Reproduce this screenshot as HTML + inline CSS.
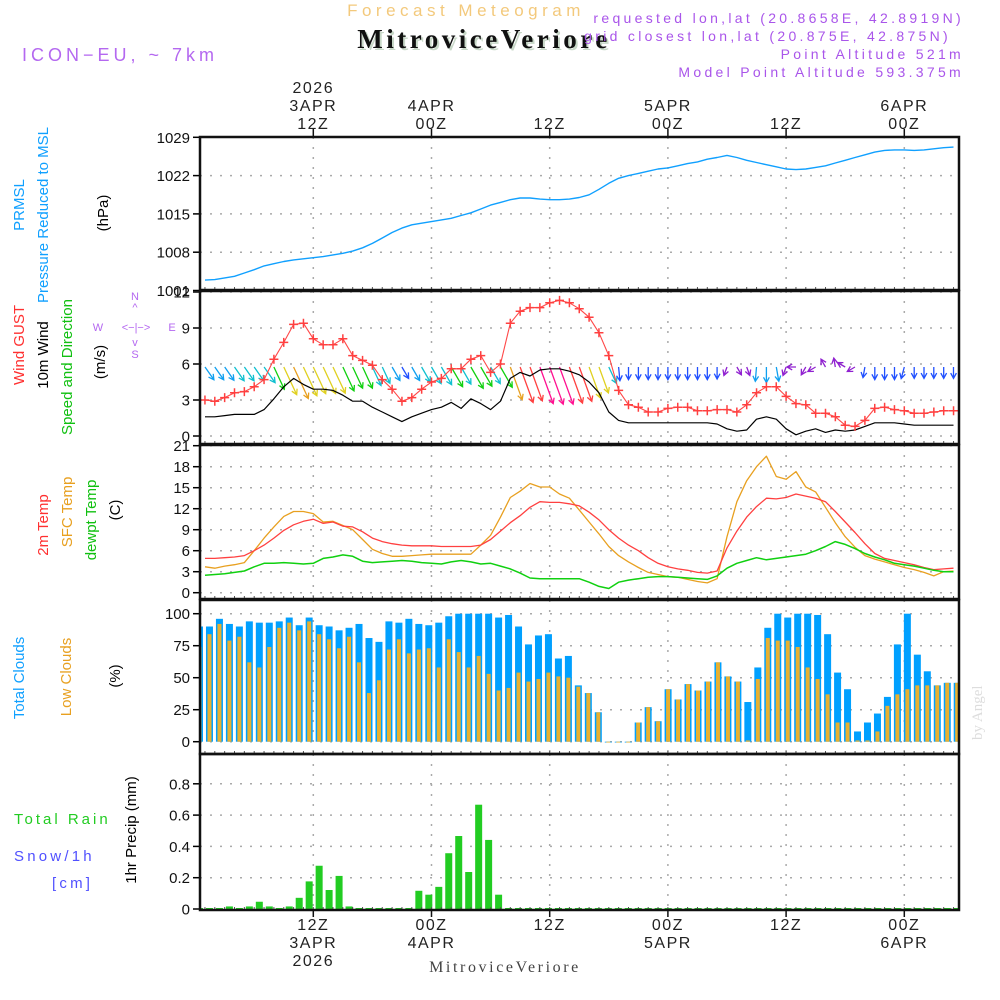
<!DOCTYPE html>
<html><head><meta charset="utf-8">
<style>
html,body{margin:0;padding:0;background:#fff;}
svg{display:block;font-family:"Liberation Sans",sans-serif;}
</style></head>
<body>
<svg id="chart" width="1000" height="1000" viewBox="0 0 1000 1000" xmlns="http://www.w3.org/2000/svg">
<defs>
<clipPath id="c1"><rect x="200" y="137" width="759" height="153"/></clipPath>
<clipPath id="c2"><rect x="200" y="291" width="759" height="153"/></clipPath>
<clipPath id="c3"><rect x="200" y="445" width="759" height="154"/></clipPath>
<clipPath id="c4"><rect x="200" y="600" width="759" height="154"/></clipPath>
<clipPath id="c5"><rect x="200" y="754" width="759" height="156"/></clipPath>
</defs>
<g id="titles">
<text x="466" y="16" text-anchor="middle" font-size="17" fill="#f3c97c" letter-spacing="4.5">Forecast Meteogram</text>
<text x="486" y="50" text-anchor="middle" font-size="27" font-weight="bold" font-family="Liberation Serif, serif" fill="#c8d8c8" letter-spacing="3.5">MitroviceVeriore</text>
<text x="484" y="48" text-anchor="middle" font-size="27" font-weight="bold" font-family="Liberation Serif, serif" fill="#111" letter-spacing="3.5">MitroviceVeriore</text>
<text x="22" y="61" font-size="18" fill="#b468f0" letter-spacing="4">ICON−EU, ~ 7km</text>
<text x="964" y="23" text-anchor="end" font-size="14" fill="#a955ea" letter-spacing="3.3">requested lon,lat (20.8658E, 42.8919N)</text>
<text x="951" y="41" text-anchor="end" font-size="14" fill="#a955ea" letter-spacing="3.3">grid closest lon,lat (20.875E, 42.875N)</text>
<text x="964" y="59" text-anchor="end" font-size="14" fill="#a955ea" letter-spacing="3.3">Point Altitude 521m</text>
<text x="964" y="77" text-anchor="end" font-size="14" fill="#a955ea" letter-spacing="3.3">Model Point Altitude 593.375m</text>
<text x="505" y="972" text-anchor="middle" font-size="16" font-family="Liberation Serif, serif" fill="#444" letter-spacing="2.6">MitroviceVeriore</text>
<text transform="translate(982,740) rotate(-90)" font-size="15" font-family="Liberation Serif, serif" fill="#ddd">by Angel</text>
</g>
<g id="leftlabels" font-size="15">
<text transform="translate(24,205) rotate(-90)" text-anchor="middle" fill="#10a0ff">PRMSL</text>
<text transform="translate(48,215) rotate(-90)" text-anchor="middle" fill="#10a0ff">Pressure Reduced to MSL</text>
<text transform="translate(108,213) rotate(-90)" text-anchor="middle" fill="#000">(hPa)</text>
<text transform="translate(24,345) rotate(-90)" text-anchor="middle" fill="#ff3030">Wind GUST</text>
<text transform="translate(48,355) rotate(-90)" text-anchor="middle" fill="#000">10m Wind</text>
<text transform="translate(72,367) rotate(-90)" text-anchor="middle" fill="#10c010">Speed and Direction</text>
<text transform="translate(105,362) rotate(-90)" text-anchor="middle" fill="#000">(m/s)</text>
<text transform="translate(48,525) rotate(-90)" text-anchor="middle" fill="#ff3030">2m Temp</text>
<text transform="translate(72,512) rotate(-90)" text-anchor="middle" fill="#e8a020">SFC Temp</text>
<text transform="translate(96,520) rotate(-90)" text-anchor="middle" fill="#10c010">dewpt Temp</text>
<text transform="translate(120,510) rotate(-90)" text-anchor="middle" fill="#000">(C)</text>
<text transform="translate(24,678) rotate(-90)" text-anchor="middle" fill="#10a0ff">Total Clouds</text>
<text transform="translate(71,677) rotate(-90)" text-anchor="middle" fill="#e8a020">Low Clouds</text>
<text transform="translate(120,676) rotate(-90)" text-anchor="middle" fill="#000">(%)</text>
<text x="14" y="824" fill="#22cc22" letter-spacing="3">Total   Rain</text>
<text x="14" y="861" fill="#5050ff" letter-spacing="3.2">Snow/1h</text>
<text x="52" y="888" fill="#5050ff" letter-spacing="3.2">[cm]</text>
<text transform="translate(136,830) rotate(-90)" text-anchor="middle" fill="#000">1hr Precip (mm)</text>
<g fill="#b468f0" font-size="11">
<text x="135" y="300" text-anchor="middle">N</text>
<text x="135" y="311" text-anchor="middle">^</text>
<text x="98" y="331" text-anchor="middle">W</text>
<text x="136" y="331" text-anchor="middle">&lt;−|−&gt;</text>
<text x="172" y="331" text-anchor="middle">E</text>
<text x="135" y="346" text-anchor="middle">v</text>
<text x="135" y="358" text-anchor="middle">S</text>
</g>
</g>
<g id="grid"></g>
<g id="marks"></g>
<g id="frames"></g>
<g id="ticks" font-size="15" fill="#111"></g>
</svg>
<script>
const pressure=[1002.9,1003.0,1003.3,1003.6,1004.2,1004.8,1005.5,1005.9,1006.3,1006.6,1006.8,1007.0,1007.2,1007.5,1007.8,1008.2,1008.8,1009.6,1010.6,1011.6,1012.4,1013.0,1013.3,1013.6,1013.9,1014.2,1014.7,1015.2,1015.9,1016.6,1017.1,1017.6,1017.9,1017.9,1017.7,1017.6,1017.6,1017.7,1018.0,1018.5,1019.5,1020.6,1021.5,1022.0,1022.4,1022.8,1023.2,1023.4,1023.8,1024.2,1024.5,1025.0,1025.3,1025.7,1025.3,1024.8,1024.4,1024.0,1023.6,1023.2,1023.1,1023.2,1023.5,1023.8,1024.3,1024.8,1025.3,1025.8,1026.3,1026.6,1026.7,1026.7,1026.6,1026.7,1026.9,1027.1,1027.2];
const gust=[3.0,2.9,3.2,3.6,3.7,4.1,4.7,6.4,7.8,9.3,9.4,8.1,7.6,7.6,8.1,6.7,6.3,5.9,4.7,3.9,2.9,3.2,3.9,4.5,4.8,5.6,5.6,6.4,6.7,5.3,6.0,9.4,10.4,10.7,10.7,11.1,11.3,11.1,10.6,9.9,8.6,6.7,3.8,2.6,2.4,2.0,2.0,2.3,2.4,2.4,2.1,2.1,2.2,2.2,2.0,2.6,3.6,4.1,4.1,3.3,2.7,2.6,1.9,1.9,1.6,0.9,0.8,1.3,2.3,2.4,2.2,2.1,1.9,1.9,2.0,2.1,2.1];
const wind=[1.6,1.6,1.7,1.8,1.8,1.8,2.2,3.1,4.1,4.8,4.3,3.9,3.9,3.8,3.4,2.9,2.9,2.4,2.0,1.6,1.2,1.6,1.9,2.2,2.4,2.8,2.3,3.1,2.7,2.2,2.9,4.8,5.3,5.0,5.5,5.6,5.6,5.4,5.1,4.5,3.6,2.0,1.3,1.1,1.1,1.1,1.1,1.1,1.1,1.1,1.1,1.1,1.0,0.6,0.4,0.5,1.4,1.6,1.4,0.6,0.1,0.4,0.6,0.3,0.5,0.4,0.5,0.8,1.1,1.1,1.1,1.0,0.9,0.9,0.9,0.9,0.9];
const windDir=[325,325,325,325,325,325,325,335,335,335,335,335,335,335,335,335,335,335,335,330,330,330,330,330,330,330,330,330,330,330,330,340,340,340,340,340,340,340,340,340,340,335,355,0,0,0,0,0,0,0,0,0,0,20,330,340,5,0,350,20,90,30,60,150,170,120,60,10,0,0,0,15,0,0,0,0,0];
const t2m=[4.9,4.9,5.0,5.1,5.3,6.0,6.8,7.8,8.9,9.7,10.2,10.5,9.9,10.1,9.5,9.4,8.7,7.8,7.3,7.0,6.8,6.7,6.7,6.7,6.6,6.6,6.6,6.6,6.8,7.6,8.8,10.0,11.0,12.2,13.0,12.9,12.9,12.7,12.4,11.5,10.4,9.0,7.8,6.8,6.0,5.0,4.2,3.7,3.4,3.2,2.9,2.8,3.1,6.4,8.8,10.8,12.3,13.5,13.4,13.6,14.1,13.8,13.5,13.0,11.6,10.1,8.6,7.0,5.6,4.9,4.6,4.3,4.0,3.6,3.3,3.4,3.5];
const tsfc=[3.7,3.5,3.8,4.0,4.3,6.0,7.8,9.4,10.9,11.6,11.6,11.3,10.1,10.2,9.6,9.0,7.6,6.2,5.6,5.2,5.2,5.3,5.4,5.5,5.5,5.5,5.5,5.5,6.8,8.2,10.8,13.6,14.5,15.6,15.1,15.1,14.1,13.5,11.8,10.1,8.4,6.6,5.3,4.4,3.6,2.9,2.6,2.3,2.2,1.9,1.6,1.4,2.0,8.0,13.0,16.0,18.0,19.5,16.6,16.2,17.3,15.1,14.4,12.2,10.0,8.0,6.5,5.3,4.8,4.4,4.0,3.6,3.3,2.9,2.4,3.0,3.1];
const dewpt=[2.5,2.6,2.7,2.9,3.1,3.7,4.2,4.2,4.3,4.2,4.1,4.2,4.9,5.1,5.4,5.2,4.5,4.3,4.4,4.5,4.6,4.5,4.3,4.2,4.1,4.4,4.6,4.4,4.1,4.2,3.8,3.4,2.8,2.1,2.0,2.0,2.0,2.0,2.0,1.5,0.9,0.6,1.5,1.8,2.0,2.2,2.3,2.3,2.2,2.1,2.0,1.9,2.4,3.5,4.2,4.6,5.0,4.7,4.9,5.1,5.3,5.5,6.0,6.6,7.3,6.9,6.3,5.6,5.1,4.7,4.2,4.0,3.8,3.5,3.2,3.0,3.0];
const totalClouds=[90,90,96,92,90,94,93,93,94,97,91,97,91,90,87,89,92,81,78,94,93,96,92,91,93,98,100,100,100,100,97,99,90,76,83,84,65,67,44,38,23,0,0,0,15,27,16,41,33,45,40,47,62,51,47,31,58,89,100,97,100,100,99,84,54,41,8,15,22,35,76,100,68,55,44,46,46];
const lowClouds=[74,84,92,79,82,62,58,74,89,93,87,94,84,80,73,82,62,38,48,72,80,69,72,73,58,80,70,58,67,53,40,42,54,47,49,54,51,50,43,38,23,0,0,0,15,27,16,41,33,45,40,47,62,51,47,1,49,81,79,79,74,58,49,37,15,15,1,1,8,28,37,41,44,44,44,46,46];
const precip=[0,0,0,0.01,0,0.01,0.04,0.01,0,0.01,0.065,0.17,0.27,0.115,0.205,0.01,0,0,0,0,0,0,0.11,0.085,0.135,0.35,0.46,0.23,0.66,0.435,0.085,0,0,0,0,0,0,0,0,0,0,0,0,0,0,0,0,0,0,0,0,0,0,0,0,0,0,0,0,0,0,0,0,0,0,0,0,0,0,0,0,0,0,0,0,0,0];
const pTicks=["1029","1022","1015","1008","1001"];
const wTicks=["12","9","6","3","0"];
const tTicks=["21","18","15","12","9","6","3","0"];
const cTicks=["100","75","50","25","0"];
const rTicks=["0.8","0.6","0.4","0.2","0"];
const timeHours=[12,24,36,48,60,72];
const topLabels=[["2026","3APR","12Z"],["","4APR","00Z"],["","","12Z"],["","5APR","00Z"],["","","12Z"],["","6APR","00Z"]];
const botLabels=[["12Z","3APR","2026"],["00Z","4APR",""],["12Z","",""],["00Z","5APR",""],["12Z","",""],["00Z","6APR",""]];

const NS="http://www.w3.org/2000/svg";
function mk(tag,attrs,parent){const e=document.createElementNS(NS,tag);for(const k in attrs)e.setAttribute(k,attrs[k]);parent.appendChild(e);return e;}
const xT=h=>313.3+(h-12)*9.85;
const xL=i=>xT(i+1);
const xB=j=>199.5+j*9.97;
const yP=v=>290.5-(v-1001)*38.3/7;
const yW=v=>436-v*12;
const yT=v=>592.7-v*7;
const yC=v=>741.7-v*1.28;
const yR=v=>909-v*156.5;
const grid=document.getElementById('grid'),marks=document.getElementById('marks'),frames=document.getElementById('frames'),ticks=document.getElementById('ticks');
const panels=[{t:137,b:290,ys:yP,labels:pTicks,vals:pTicks.map(Number),clip:'c1'},{t:291,b:444,ys:yW,labels:wTicks,vals:wTicks.map(Number),clip:'c2'},{t:445,b:599,ys:yT,labels:tTicks,vals:tTicks.map(Number),clip:'c3'},{t:600,b:754,ys:yC,labels:cTicks,vals:cTicks.map(Number),clip:'c4'},{t:754,b:910,ys:yR,labels:rTicks,vals:rTicks.map(Number),clip:'c5'}];
panels.forEach((p,pi)=>{
  p.vals.forEach((v,k)=>{const y=p.ys(v);
    const g=mk('line',{x1:200,x2:959,y1:y,y2:y,stroke:'#aaa','stroke-width':1.5,'stroke-dasharray':'2 8'},grid);
    
    
    const tk=mk('line',{x1:193,x2:200,y1:y,y2:y,stroke:'#000','stroke-width':1.5},frames);
    
    
    const t=mk('text',{x:190,y:y+5.5,'text-anchor':'end'},ticks);t.textContent=p.labels[k];
    
    
  });
  timeHours.forEach(h=>{const g=mk('line',{x1:xT(h),x2:xT(h),y1:p.t,y2:p.b,stroke:'#aaa','stroke-width':1.5,'stroke-dasharray':'2 8'},grid);
    
    });
  for(let h=1;h<78;h++){const tk=mk('line',{x1:xT(h),x2:xT(h),y1:p.b-3,y2:p.b,stroke:'#555','stroke-width':1},frames);
    
    }
  const f=mk('rect',{x:200,y:p.t,width:759,height:p.b-p.t,fill:'none',stroke:'#111','stroke-width':2.5},frames);
  
  
});
timeHours.forEach((h,k)=>{
  const t1=mk('line',{x1:xT(h),x2:xT(h),y1:129,y2:137,stroke:'#111','stroke-width':1.5},frames);
  
  
  const t2=mk('line',{x1:xT(h),x2:xT(h),y1:910,y2:917,stroke:'#111','stroke-width':1.5},frames);
  
  
  topLabels[k].forEach((s,r)=>{if(!s)return;const t=mk('text',{x:xT(h),y:93+r*18,'text-anchor':'middle','font-size':16,'letter-spacing':1.5,fill:'#222'},ticks);t.textContent=s;
    
    });
  botLabels[k].forEach((s,r)=>{if(!s)return;const t=mk('text',{x:xT(h),y:930+r*18,'text-anchor':'middle','font-size':16,'letter-spacing':1.5,fill:'#222'},ticks);t.textContent=s;
    
    });
});
function line(arr,xs,ys,color,w,clip,name){const d=arr.map((v,i)=>(i?'L':'M')+xs(i).toFixed(1)+' '+ys(v).toFixed(1)).join('');
  const p=mk('path',{d:d,fill:'none',stroke:color,'stroke-width':w,'clip-path':'url(#'+clip+')','stroke-linejoin':'round'},marks);
  
  }
line(pressure,xL,yP,'#10a0ff',1.4,'c1','pressure-line');
function spdColor(s){if(s<0.7)return '#9020d0';if(s<1.4)return '#2050ff';if(s<1.8)return '#10a0f0';if(s<2.6)return '#10c0d0';if(s<3.5)return '#10d010';if(s<4.6)return '#e0d020';if(s<5.0)return '#e8a020';if(s<5.45)return '#ff4040';return '#ff1090';}
wind.forEach((s,i)=>{const a=(windDir[i]+180)*Math.PI/180;const L=s<0.7?9:6+6*s;
  const x0=xL(i),y0=367;const x1=x0+Math.sin(a)*L,y1=y0-Math.cos(a)*L;const c=spdColor(s);
  const ah=Math.atan2(y1-y0,x1-x0);const hl=6;
  const d=`M${x0.toFixed(1)} ${y0}L${x1.toFixed(1)} ${y1.toFixed(1)}M${(x1-hl*Math.cos(ah-0.5)).toFixed(1)} ${(y1-hl*Math.sin(ah-0.5)).toFixed(1)}L${x1.toFixed(1)} ${y1.toFixed(1)}L${(x1-hl*Math.cos(ah+0.5)).toFixed(1)} ${(y1-hl*Math.sin(ah+0.5)).toFixed(1)}`;
  const p=mk('path',{d:d,fill:'none',stroke:c,'stroke-width':1.3,'clip-path':'url(#c2)'},marks);
  
  
});
line(wind,xL,yW,'#000',1.2,'c2','wind-speed-line');
line(gust,xL,yW,'#ff4848',1.1,'c2','gust-line');
gust.forEach((v,i)=>{const x=xL(i),y=yW(v);const p=mk('path',{d:`M${x-4.5} ${y}h9M${x} ${y-4.5}v9`,stroke:'#ff4040','stroke-width':1.5,'clip-path':'url(#c2)'},marks);
  
  });
line(tsfc,xL,yT,'#e8a020',1.3,'c3','sfc-temp-line');
line(t2m,xL,yT,'#ff4040',1.3,'c3','t2m-line');
line(dewpt,xL,yT,'#10d010',1.5,'c3','dewpt-line');
totalClouds.forEach((v,j)=>{const x=xB(j);const r=mk('rect',{x:x-3.5,y:yC(v),width:7,height:Math.max(0.8,yC(0)-yC(v)),fill:'#00a0ff','clip-path':'url(#c4)'},marks);
  
  });
lowClouds.forEach((v,j)=>{const x=xB(j);const r=mk('rect',{x:x-2,y:yC(v),width:4,height:Math.max(0.8,yC(0)-yC(v)),fill:'#e8b030','clip-path':'url(#c4)'},marks);
  
  });
precip.forEach((v,j)=>{const x=xB(j);const r=mk('rect',{x:x-3.5,y:yR(v)-1,width:7,height:yR(0)-yR(v)+1,fill:'#22cc22','clip-path':'url(#c5)'},marks);
  
  });
</script>
</body></html>
